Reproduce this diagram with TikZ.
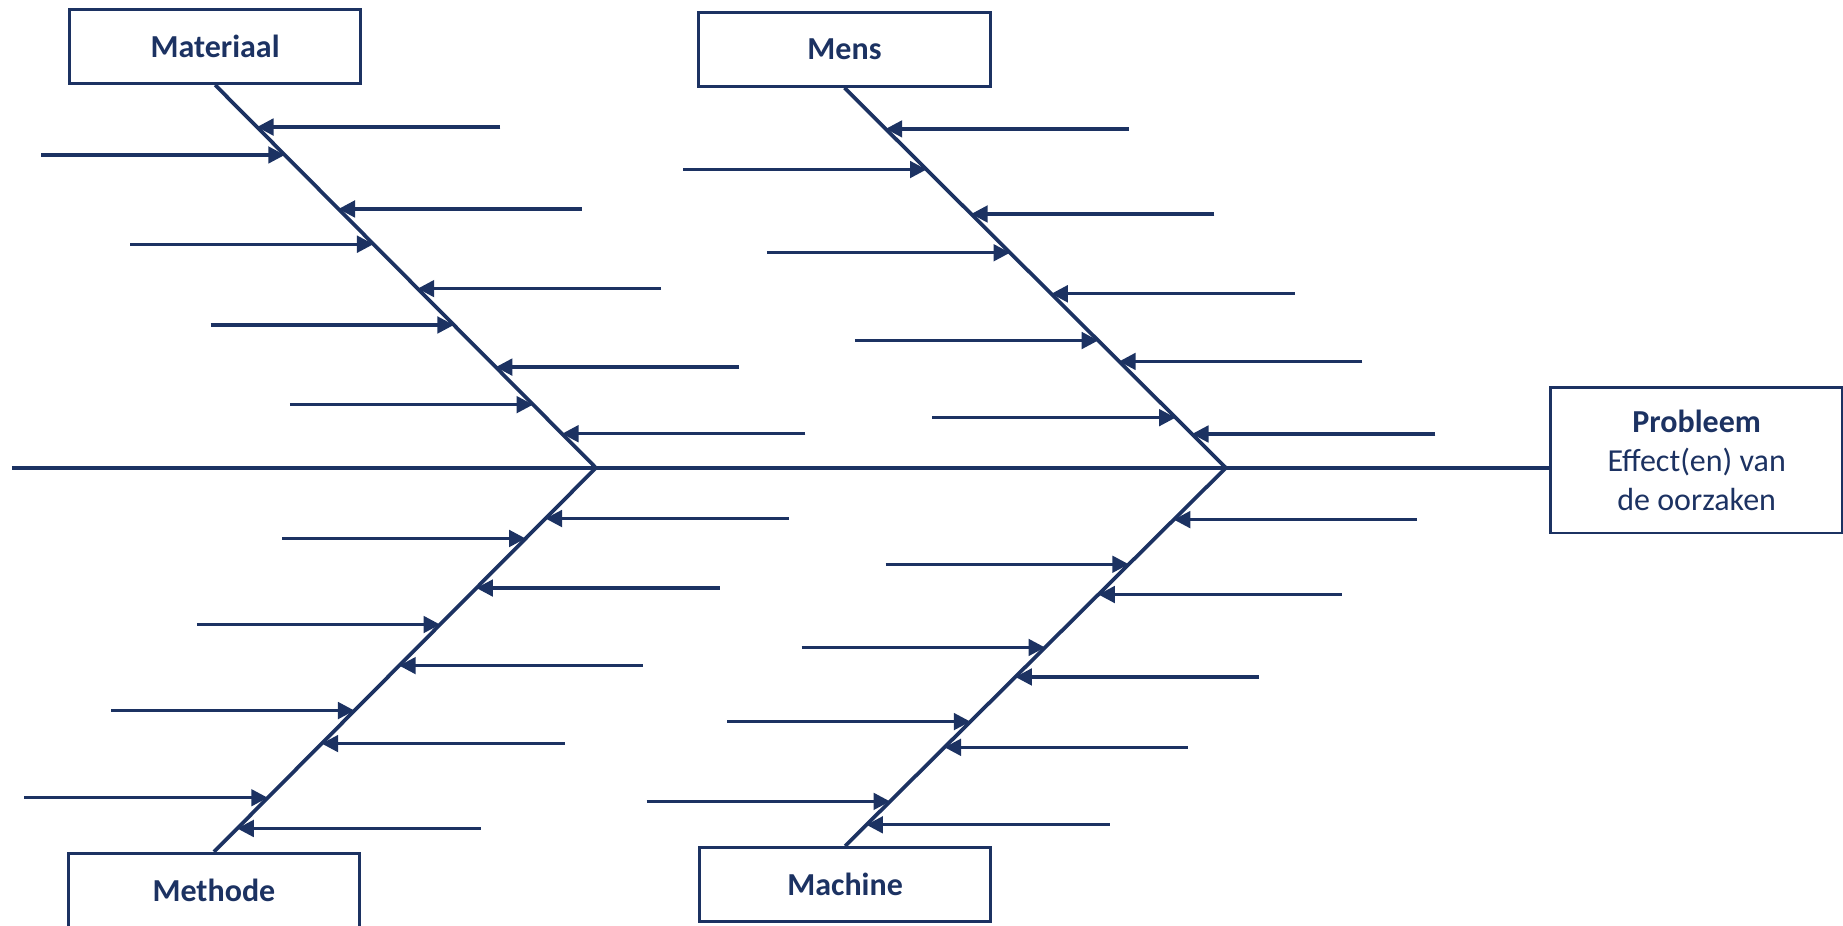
\documentclass[tikz,border=0pt]{standalone}
\usepackage{fontspec}
\setmainfont{Carlito}
\usetikzlibrary{arrows.meta,calc}
\definecolor{fishblue}{RGB}{28,50,98}

\begin{document}
\begin{tikzpicture}
        [
            x = 0.2mm, y = -0.2mm,
            box/.style = {draw = fishblue, line width = 1.4pt, text = fishblue, minimum width = 4.96cm, minimum height = 1.26cm, font = \fontsize{15.5}{18.8}\selectfont},
            bone/.style = {draw = fishblue, line width = 1.8pt},
            rib/.style = {draw = fishblue, line width = 1.6pt, -{Triangle[length = 8pt, width = 8pt]}}
        ]

        \useasboundingbox (0,0) rectangle (1568,787);

        % causes and effect
        \node [box] (mat) at (183,39.5) {\bf Materiaal};
        \node [box] (mens) at (718.5,42) {\bf Mens};
        \node [box] (meth) at (182,757.5) {\bf Methode};
        \node [box] (mach) at (719,752.5) {\bf Machine};
        \node [box, minimum height = 2.48cm, align = center] (prob) at (1443.5,391.5)
            {{\bf Probleem}\\Effect(en) van\\de oorzaken};

        % backbone
        \coordinate (tail) at (10,398);
        \coordinate (j1) at (507,398);
        \coordinate (j2) at (1043,398);
        \draw [bone] (tail) -- (tail -| prob.west);
        \draw [bone] (mat.south) -- (j1) -- (meth.north);
        \draw [bone] (mens.south) -- (j2) -- (mach.north);

        % Materiaal
        \foreach \f [count = \i] in {0.110, 0.324, 0.532, 0.737, 0.911} {
            \coordinate (mr\i) at ($(mat.south)!\f!(j1)$);
            \draw [rib] (mr\i) ++(207,0) -- (mr\i);
        }
        \foreach \f [count = \i] in {0.183, 0.416, 0.627, 0.835} {
            \coordinate (ml\i) at ($(mat.south)!\f!(j1)$);
            \draw [rib] (ml\i) ++(-207,0) -- (ml\i);
        }

        % Mens
        \foreach \f [count = \i] in {0.108, 0.332, 0.542, 0.720, 0.911} {
            \coordinate (nr\i) at ($(mens.south)!\f!(j2)$);
            \draw [rib] (nr\i) ++(207,0) -- (nr\i);
        }
        \foreach \f [count = \i] in {0.215, 0.434, 0.665, 0.868} {
            \coordinate (nl\i) at ($(mens.south)!\f!(j2)$);
            \draw [rib] (nl\i) ++(-207,0) -- (nl\i);
        }

        % Methode
        \foreach \f [count = \i] in {0.132, 0.313, 0.515, 0.718, 0.939} {
            \coordinate (tr\i) at ($(j1)!\f!(meth.north)$);
            \draw [rib] (tr\i) ++(207,0) -- (tr\i);
        }
        \foreach \f [count = \i] in {0.184, 0.408, 0.632, 0.859} {
            \coordinate (tl\i) at ($(j1)!\f!(meth.north)$);
            \draw [rib] (tl\i) ++(-207,0) -- (tl\i);
        }

        % Machine
        \foreach \f [count = \i] in {0.137, 0.335, 0.553, 0.739, 0.944} {
            \coordinate (cr\i) at ($(j2)!\f!(mach.north)$);
            \draw [rib] (cr\i) ++(207,0) -- (cr\i);
        }
        \foreach \f [count = \i] in {0.255, 0.475, 0.671, 0.882} {
            \coordinate (cl\i) at ($(j2)!\f!(mach.north)$);
            \draw [rib] (cl\i) ++(-207,0) -- (cl\i);
        }
\end{tikzpicture}
\end{document}
